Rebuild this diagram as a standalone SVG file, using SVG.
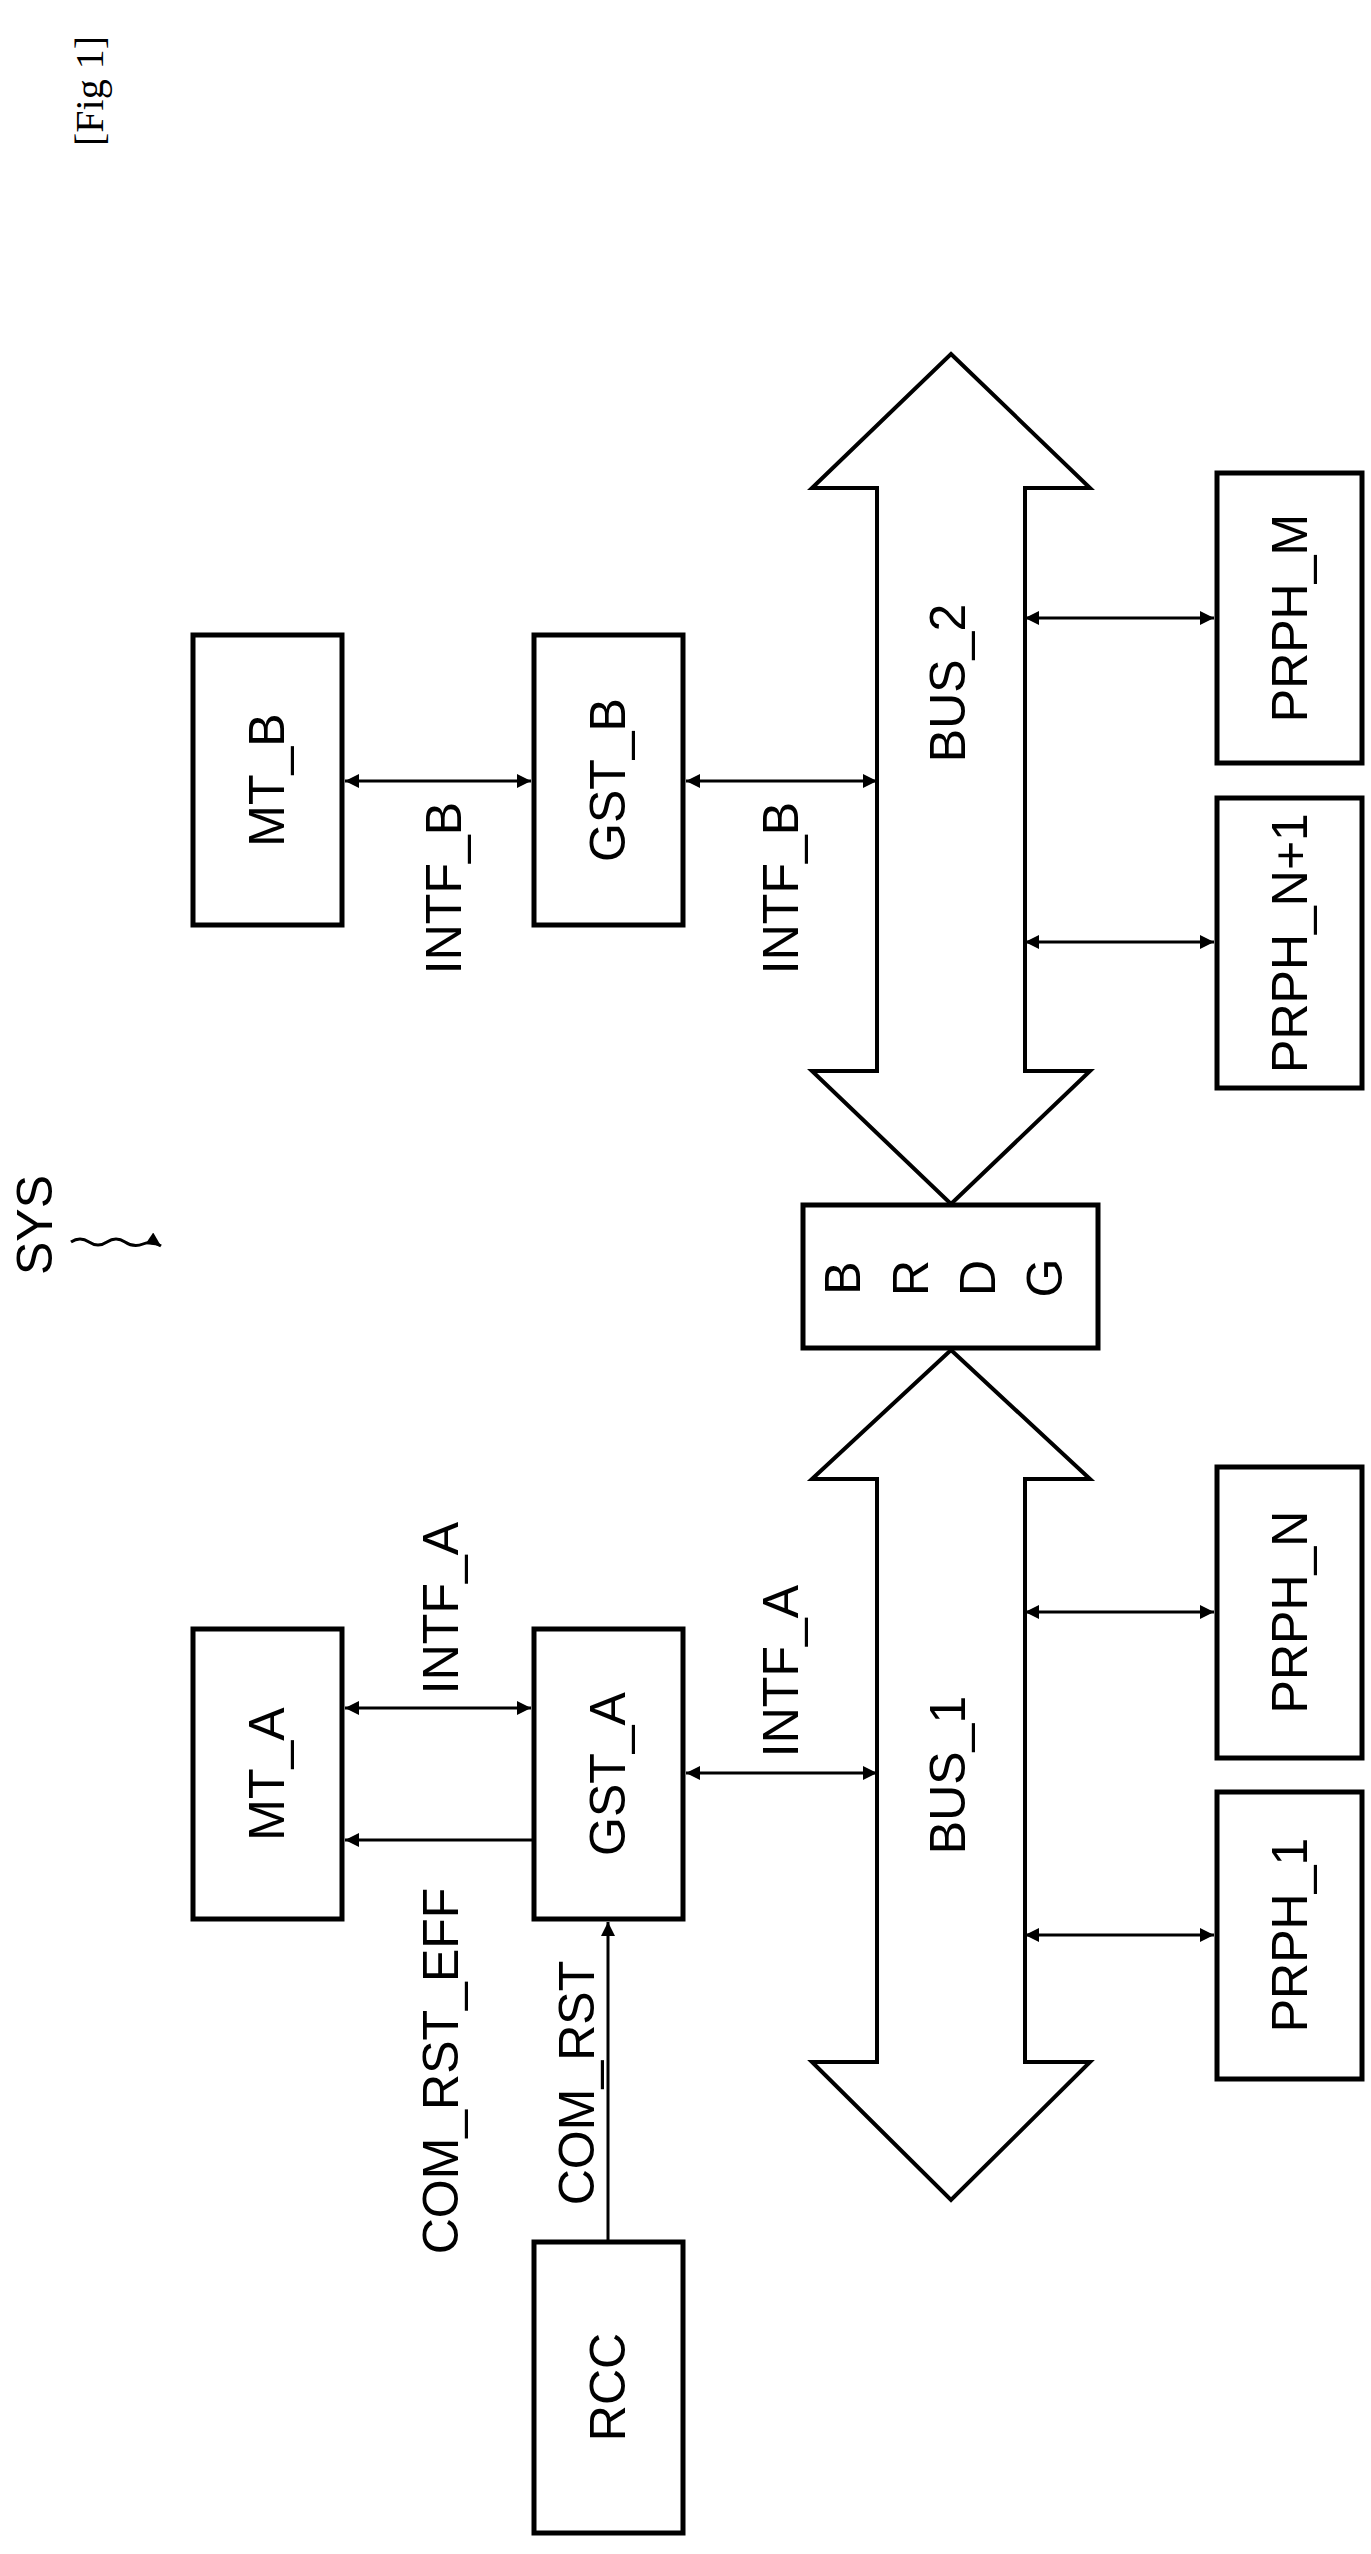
<svg xmlns="http://www.w3.org/2000/svg" width="1371" height="2554" viewBox="0 0 1371 2554">
<style>
.box{fill:#fff;stroke:#000;stroke-width:5}
.bus{fill:#fff;stroke:#000;stroke-width:4;stroke-linejoin:miter}
.t{font-family:"Liberation Sans",Arial,sans-serif;font-size:50px;fill:#000;text-anchor:middle;dominant-baseline:central}
.c{stroke:#000;stroke-width:3;fill:none}
</style>
<defs>
<marker id="ah2" viewBox="0 0 10 10" refX="10" refY="5" markerWidth="16" markerHeight="14" orient="auto-start-reverse" markerUnits="userSpaceOnUse"><path d="M0,0 L10,5 L0,10 z" fill="#000"/></marker>
</defs>
<text transform="translate(89,91) rotate(-90)" style="font-family:'Liberation Serif',serif;font-size:40px;text-anchor:middle;dominant-baseline:central">[Fig 1]</text>
<g id="sys">
<text class="t" transform="translate(35,1225) rotate(-90)">SYS</text>
<path class="c" stroke-width="2" d="M71,1242 q9,-6 18,0 t18,0 t18,0 t18,2 t18,2" marker-end="url(#ah2)"/>
</g>
<g id="bus2"><path class="bus" d="M951,354 L1090,488 L1025,488 L1025,1071 L1090,1071 L951,1204 L812,1071 L877,1071 L877,488 L812,488 Z"/><text class="t" transform="translate(948,683) rotate(-90)">BUS_2</text></g>
<g id="bus1"><path class="bus" d="M951,1350 L1090,1479 L1025,1479 L1025,2062 L1090,2062 L951,2200 L812,2062 L877,2062 L877,1479 L812,1479 Z"/><text class="t" transform="translate(948,1775) rotate(-90)">BUS_1</text></g>
<g id="brdg"><rect class="box" x="803" y="1205" width="295" height="143"/>
<text class="t" transform="translate(843,1278) rotate(-90)">B</text><text class="t" transform="translate(911,1278) rotate(-90)">R</text><text class="t" transform="translate(978,1278) rotate(-90)">D</text><text class="t" transform="translate(1045,1278) rotate(-90)">G</text></g>
<g id="mt_b"><rect class="box" x="193" y="635" width="149" height="290"/><text class="t" transform="translate(267,780) rotate(-90)">MT_B</text></g>
<g id="gst_b"><rect class="box" x="534" y="635" width="149" height="290"/><text class="t" transform="translate(608,780) rotate(-90)">GST_B</text></g>
<g id="prph_m"><rect class="box" x="1217" y="473" width="145" height="290"/><text class="t" transform="translate(1290,618) rotate(-90)">PRPH_M</text></g>
<g id="prph_n1"><rect class="box" x="1217" y="798" width="145" height="290"/><text class="t" transform="translate(1290,943) rotate(-90)">PRPH_N+1</text></g>
<g id="mt_a"><rect class="box" x="193" y="1629" width="149" height="290"/><text class="t" transform="translate(267,1774) rotate(-90)">MT_A</text></g>
<g id="gst_a"><rect class="box" x="534" y="1629" width="149" height="290"/><text class="t" transform="translate(608,1774) rotate(-90)">GST_A</text></g>
<g id="prph_n"><rect class="box" x="1217" y="1467" width="145" height="291"/><text class="t" transform="translate(1290,1612) rotate(-90)">PRPH_N</text></g>
<g id="prph_1"><rect class="box" x="1217" y="1792" width="145" height="287"/><text class="t" transform="translate(1290,1935) rotate(-90)">PRPH_1</text></g>
<g id="rcc"><rect class="box" x="534" y="2242" width="149" height="291"/><text class="t" transform="translate(608,2387) rotate(-90)">RCC</text></g>
<g id="connectors">
<line class="c" x1="345" y1="781" x2="531" y2="781" marker-start="url(#ah2)" marker-end="url(#ah2)"/>
<line class="c" x1="686" y1="781" x2="877" y2="781" marker-start="url(#ah2)" marker-end="url(#ah2)"/>
<line class="c" x1="1025" y1="618" x2="1214" y2="618" marker-start="url(#ah2)" marker-end="url(#ah2)"/>
<line class="c" x1="1025" y1="942" x2="1214" y2="942" marker-start="url(#ah2)" marker-end="url(#ah2)"/>
<line class="c" x1="345" y1="1708" x2="531" y2="1708" marker-start="url(#ah2)" marker-end="url(#ah2)"/>
<line class="c" x1="534" y1="1840" x2="345" y2="1840" marker-end="url(#ah2)"/>
<line class="c" x1="686" y1="1773" x2="877" y2="1773" marker-start="url(#ah2)" marker-end="url(#ah2)"/>
<line class="c" x1="1025" y1="1612" x2="1214" y2="1612" marker-start="url(#ah2)" marker-end="url(#ah2)"/>
<line class="c" x1="1025" y1="1935" x2="1214" y2="1935" marker-start="url(#ah2)" marker-end="url(#ah2)"/>
<line class="c" x1="608" y1="2242" x2="608" y2="1922" marker-end="url(#ah2)"/>
<text class="t" transform="translate(444,888) rotate(-90)">INTF_B</text>
<text class="t" transform="translate(781,888) rotate(-90)">INTF_B</text>
<text class="t" transform="translate(441,1608) rotate(-90)">INTF_A</text>
<text class="t" transform="translate(781,1671) rotate(-90)">INTF_A</text>
<text class="t" transform="translate(441,2071) rotate(-90)">COM_RST_EFF</text>
<text class="t" transform="translate(577,2083) rotate(-90)">COM_RST</text>
</g>
</svg>
